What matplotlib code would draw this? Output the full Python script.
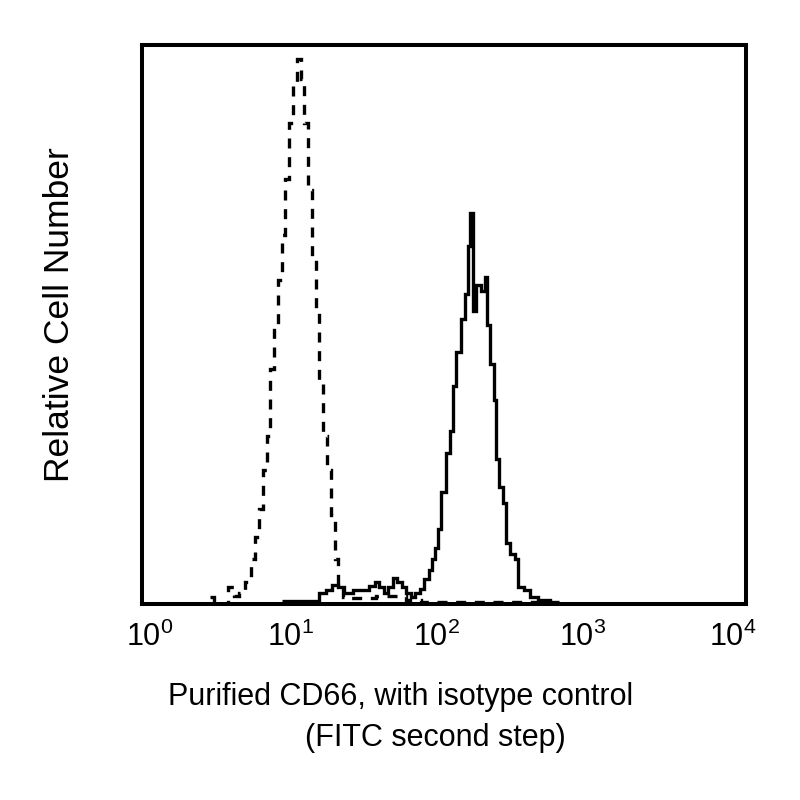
import numpy as np
import matplotlib
matplotlib.use("Agg")
import matplotlib.pyplot as plt
from matplotlib.transforms import ScaledTranslation

plt.rcParams.update({
    "font.family": ["Liberation Sans", "DejaVu Sans"],
    "mathtext.fontset": "custom",
    "mathtext.rm": "Liberation Sans",
    "mathtext.it": "Liberation Sans",
    "mathtext.bf": "Liberation Sans",
})

# isotype control (dashed), bin edges in log10 units and relative heights
iso_edges = [0.45, 0.48, 0.57, 0.61, 0.64, 0.68, 0.72, 0.75, 0.775, 0.80,
             0.825, 0.85, 0.875, 0.90, 0.925, 0.95, 0.975, 1.00, 1.025, 1.05,
             1.075, 1.10, 1.125, 1.15, 1.175, 1.20, 1.225, 1.25, 1.275, 1.30,
             1.33, 1.38, 1.55, 1.75, 1.85, 2.70]
iso_counts = [0.012, 0.0, 0.03, 0.015, 0.02, 0.04, 0.08, 0.12, 0.17, 0.24,
              0.30, 0.42, 0.50, 0.58, 0.66, 0.76, 0.86, 0.93, 0.975, 0.94,
              0.86, 0.74, 0.62, 0.52, 0.40, 0.30, 0.24, 0.16, 0.08, 0.03,
              0.012, 0.01, 0.015, 0.008, 0.003]

# purified CD66 (solid)
cd66_edges = [0.93, 1.17, 1.22, 1.26, 1.30, 1.34, 1.40, 1.50, 1.54, 1.57,
              1.60, 1.63, 1.66, 1.69, 1.72, 1.75, 1.78, 1.81, 1.84, 1.87,
              1.90, 1.92, 1.94, 1.96, 1.98, 2.01, 2.04, 2.06, 2.08, 2.11,
              2.14, 2.16, 2.175, 2.195, 2.215, 2.245, 2.27, 2.285, 2.305, 2.33,
              2.345, 2.365, 2.39, 2.41, 2.44, 2.47, 2.49, 2.53, 2.57, 2.62,
              2.70, 2.76]
cd66_counts = [0.005, 0.02, 0.025, 0.034, 0.03, 0.02, 0.025, 0.033, 0.04, 0.03,
               0.02, 0.03, 0.046, 0.04, 0.03, 0.02, 0.012, 0.02, 0.027, 0.045,
               0.06, 0.08, 0.10, 0.135, 0.20, 0.27, 0.31, 0.39, 0.45, 0.51,
               0.555, 0.64, 0.70, 0.525, 0.57, 0.56, 0.585, 0.50, 0.43, 0.365,
               0.26, 0.21, 0.18, 0.11, 0.09, 0.08, 0.03, 0.025, 0.013, 0.008,
               0.004]

xticks = [1, 10, 100, 1000, 10000]
xtick_labels = [r"$10^{0}$", r"$10^{1}$", r"$10^{2}$", r"$10^{3}$", r"$10^{4}$"]

fig = plt.figure(figsize=(8, 8), dpi=100)
ax = fig.add_axes([142 / 800, 196 / 800, 604 / 800, 559 / 800])

ax.stairs(iso_counts, 10 ** np.array(iso_edges), baseline=None,
          color="black", lw=2.4, linestyle=(0, (3, 2.6)))
ax.stairs(cd66_counts, 10 ** np.array(cd66_edges), baseline=None,
          color="black", lw=2.4)

ax.set_xscale("log")
ax.set_xlim(1, 1e4)
ax.set_ylim(0, 1)
ax.set_xticks(xticks)
ax.set_xticklabels(xtick_labels, fontsize=22)
ax.minorticks_off()
ax.set_yticks([])
ax.tick_params(axis="x", length=0, pad=13)
for sp in ax.spines.values():
    sp.set_linewidth(2.9)

# labels in the original sit a little off their decades
shifts = [8, -2, -7, -12, -13]
for lab, dx in zip(ax.get_xticklabels(), shifts):
    lab.set_transform(lab.get_transform()
                      + ScaledTranslation(dx / 100, 0, fig.dpi_scale_trans))

fig.text(60 / 800, 1 - 315 / 800, "Relative Cell Number", rotation=90,
         ha="center", va="center", fontsize=25.5)
fig.text(401 / 800, 1 - 697 / 800, "Purified CD66, with isotype control",
         ha="center", va="center", fontsize=22)
fig.text(435 / 800, 1 - 738 / 800, "(FITC second step)",
         ha="center", va="center", fontsize=22)

fig.savefig("out.png", dpi=100)
